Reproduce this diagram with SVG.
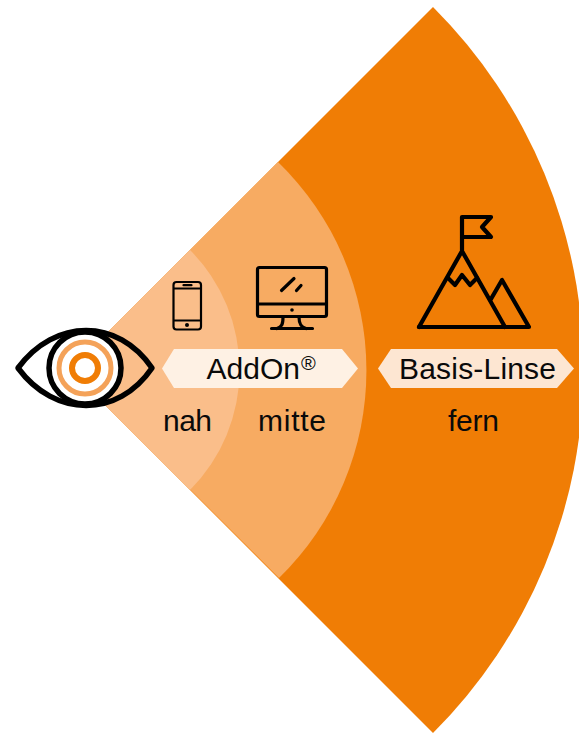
<svg xmlns="http://www.w3.org/2000/svg" width="579" height="733" viewBox="0 0 579 733">
<style>
.t{font-family:"Liberation Sans",Arial,sans-serif;font-size:30px;fill:#0a0a0a;text-anchor:middle}
.i{fill:none;stroke:#000;stroke-linecap:round;stroke-linejoin:round}
</style>
<defs><clipPath id="left"><rect x="0" y="300" width="85" height="140"/></clipPath></defs>
<rect width="579" height="733" fill="#fff"/>
<g id="sector-fern"><path d="M70 370L433 7A513 513 0 0 1 433 733Z" fill="#f07d05"/></g>
<g id="sector-mitte"><path d="M70 370L278 162A290 290 0 0 1 279 578Z" fill="#f7ab62"/></g>
<g id="sector-nah"><path d="M70 370L190 250A170 170 0 0 1 190 490Z" fill="#fabe8a"/></g>
<g id="eye">
<path d="M18 368C55 318 118 318 152 368C118 418 55 418 18 368Z" fill="#fff" clip-path="url(#left)"/>
<path d="M18 368C55 318 118 318 152 368C118 418 55 418 18 368Z" fill="none" stroke="#000" stroke-width="5.500" stroke-linejoin="round"/>
<circle cx="85" cy="368" r="36" fill="#fff" stroke="#000" stroke-width="5.500"/>
<circle cx="85" cy="368" r="26" fill="none" stroke="#f4a259" stroke-width="5"/>
<circle cx="85" cy="368" r="13" fill="none" stroke="#f07d05" stroke-width="6"/>
</g>
<g id="phone" class="i" stroke-width="2.200">
<rect x="173.500" y="282" width="27.500" height="47.500" rx="3"/>
<path d="M174 288.500H200.500M174 320.500H200.500"/>
<path d="M183.500 285.200H191.500"/>
<circle cx="187" cy="325" r="2" fill="#000" stroke="none"/>
</g>
<g id="monitor" class="i" stroke-width="3.200">
<rect x="257.500" y="267.500" width="69" height="49" rx="2"/>
<path d="M258 304H326"/>
<path d="M281.500 290.500L294 278.500M296.500 290.500L301 285.500"/>
<path d="M283 317C283 324 282 327 277 328.500M299 317C299 324 301 327 306 328.500M271.500 328.500H312.500"/>
<circle cx="292" cy="310" r="1.800" fill="#000" stroke="none"/>
</g>
<g id="mountain" class="i" stroke-width="4.200">
<path d="M462 250V217H491L482 227L491 237H462"/>
<path d="M419 327L462 251L505 327"/>
<path d="M419 327H529L502 280L491 299"/>
<path d="M448 278L455 285L462 275L470 285L477 278"/>
</g>
<g id="label-addon">
<path d="M174 349H342L358 368.500L342 388H174L162 368.500Z" fill="#fef1e4"/>
<text x="206.500" y="379" class="t" style="text-anchor:start">AddOn<tspan dx="1" dy="-9" style="font-size:20px">®</tspan></text>
</g>
<g id="label-basis">
<path d="M391 349H557L574 368.500L557 388H391L378 368.500Z" fill="#fde6d2"/>
<text x="477.500" y="379" class="t" textLength="157" lengthAdjust="spacing">Basis-Linse</text>
</g>
<g id="distance-labels">
<text x="187.500" y="431" class="t" textLength="49" lengthAdjust="spacing">nah</text>
<text x="292" y="431" class="t" textLength="68" lengthAdjust="spacing">mitte</text>
<text x="473.500" y="431" class="t" textLength="51" lengthAdjust="spacing">fern</text>
</g>
</svg>
